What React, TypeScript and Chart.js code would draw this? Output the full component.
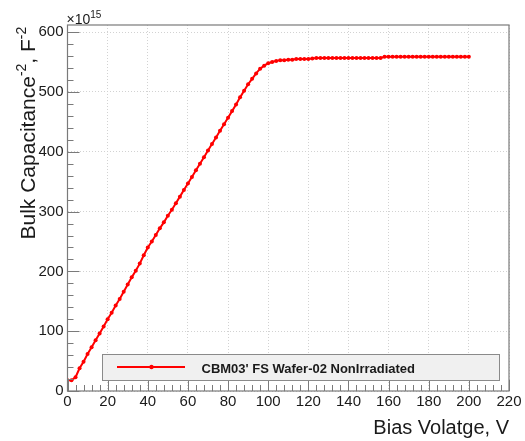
import React, { useEffect, useRef } from "react";
import { Chart, registerables } from "chart.js";

Chart.register(...registerables);

// Bias voltage (V)
const voltages: number[] = [
  0, 2, 4, 6, 8, 10, 12, 14, 16, 18,
  20, 22, 24, 26, 28, 30, 32, 34, 36, 38,
  40, 42, 44, 46, 48, 50, 52, 54, 56, 58,
  60, 62, 64, 66, 68, 70, 72, 74, 76, 78,
  80, 82, 84, 86, 88, 90, 92, 94, 96, 98,
  100, 102, 104, 106, 108, 110, 112, 114, 116, 118,
  120, 122, 124, 126, 128, 130, 132, 134, 136, 138,
  140, 142, 144, 146, 148, 150, 152, 154, 156, 158,
  160, 162, 164, 166, 168, 170, 172, 174, 176, 178,
  180, 182, 184, 186, 188, 190, 192, 194, 196, 198,
  200,
];

// Bulk capacitance^-2 (x1e15 F^-2)
const invCapSquared: number[] = [
  18, 18, 23, 38, 49, 62, 73, 85, 96, 108,
  120, 131, 143, 154, 166, 178, 190, 201, 213, 227,
  240, 250, 261, 272, 282, 293, 303, 314, 325, 336,
  347, 358, 369, 380, 391, 402, 413, 424, 435, 446,
  457, 468, 479, 491, 502, 513, 522, 531, 539, 544,
  548, 550, 552, 553, 553, 554, 554, 555, 555, 555,
  555, 556, 557, 557, 557, 557, 557, 557, 557, 557,
  557, 557, 557, 557, 557, 557, 557, 557, 557, 559,
  559, 559, 559, 559, 559, 559, 559, 559, 559, 559,
  559, 559, 559, 559, 559, 559, 559, 559, 559, 559,
  559,
];

const xMajorTicks: number[] = [0, 20, 40, 60, 80, 100, 120, 140, 160, 180, 200, 220];
const yMajorTicks: number[] = [0, 100, 200, 300, 400, 500, 600];

const seriesName = "CBM03' FS Wafer-02 NonIrradiated";
const xTitle = "Bias Volatge, V";
const yTitleParts: [string, boolean][] = [
  ["Bulk Capacitance", false],
  ["-2", true],
  [", F", false],
  ["-2", true],
];
const exponentBase = "\u00d710";
const exponentPower = "15";

const FONT = "'Liberation Sans', Arial, Helvetica, sans-serif";
const TEXT = "#1a1a1a";
const FRAME = "#7a7a7a";

const decorPlugin = {
  id: "rootDecor",
  afterDraw(chart: any) {
    const ctx: CanvasRenderingContext2D = chart.ctx;
    const { left, right, top, bottom } = chart.chartArea;
    const xs = chart.scales.x;
    const ys = chart.scales.y;
    ctx.save();

    // frame
    ctx.strokeStyle = FRAME;
    ctx.lineWidth = 1.2;
    ctx.strokeRect(left, top, right - left, bottom - top);

    // y ticks (inside)
    ctx.lineWidth = 1;
    ctx.beginPath();
    for (let v = 0; v <= 600; v += 20) {
      const y = Math.round(ys.getPixelForValue(v)) + 0.5;
      const len = v % 100 === 0 ? 12 : 6;
      ctx.moveTo(left, y);
      ctx.lineTo(left + len, y);
    }
    // x ticks (inside)
    for (let v = 0; v <= 220; v += 4) {
      const x = Math.round(xs.getPixelForValue(v)) + 0.5;
      const len = v % 20 === 0 ? 11 : 6;
      ctx.moveTo(x, bottom);
      ctx.lineTo(x, bottom - len);
    }
    ctx.stroke();

    // exponent label
    ctx.fillStyle = TEXT;
    ctx.textAlign = "left";
    ctx.textBaseline = "alphabetic";
    ctx.font = `14px ${FONT}`;
    ctx.fillText(exponentBase, left - 1, 23.5);
    const bw = ctx.measureText(exponentBase).width;
    ctx.font = `10px ${FONT}`;
    ctx.fillText(exponentPower, left - 1 + bw, 18);

    // x title
    ctx.font = `20px ${FONT}`;
    ctx.textAlign = "right";
    ctx.fillText(xTitle, right, 433.5);

    // y title (rotated)
    ctx.save();
    ctx.translate(35, 239.5);
    ctx.rotate(-Math.PI / 2);
    ctx.textAlign = "left";
    let cx = 0;
    for (const [txt, sup] of yTitleParts) {
      ctx.font = sup ? `14px ${FONT}` : `21px ${FONT}`;
      ctx.fillText(txt, cx, sup ? -9 : 0);
      cx += ctx.measureText(txt).width;
    }
    ctx.restore();

    // legend
    const lx = 102, ly = 354, lw = 397, lh = 26;
    ctx.fillStyle = "#f0f0f0";
    ctx.fillRect(lx, ly, lw, lh);
    ctx.strokeStyle = "#8a8a8a";
    ctx.lineWidth = 1;
    ctx.strokeRect(lx + 0.5, ly + 0.5, lw, lh);
    ctx.strokeStyle = "#ff0000";
    ctx.lineWidth = 2;
    ctx.beginPath();
    ctx.moveTo(117, 367);
    ctx.lineTo(185, 367);
    ctx.stroke();
    ctx.fillStyle = "#ff0000";
    ctx.beginPath();
    ctx.arc(151.5, 367, 2.2, 0, Math.PI * 2);
    ctx.fill();
    ctx.fillStyle = TEXT;
    ctx.font = `bold 13px ${FONT}`;
    ctx.textAlign = "left";
    ctx.fillText(seriesName, 201.5, 372.5);

    ctx.restore();
  },
};

export default function App() {
  const canvasRef = useRef<HTMLCanvasElement | null>(null);

  useEffect(() => {
    document.body.style.margin = "0";
    const canvas = canvasRef.current;
    if (!canvas) return;
    const points = voltages.map((v, i) => ({ x: v, y: invCapSquared[i] }));
    const chart = new Chart(canvas, {
      type: "line",
      data: {
        datasets: [
          {
            label: seriesName,
            data: points,
            borderColor: "#ff0000",
            backgroundColor: "#ff0000",
            borderWidth: 2,
            pointRadius: 2,
            pointBorderWidth: 0,
            pointBackgroundColor: "#ff0000",
            tension: 0,
          },
        ],
      },
      options: {
        responsive: false,
        animation: false,
        devicePixelRatio: 1,
        layout: { padding: { left: 0, top: 25, right: 16, bottom: 0 } },
        plugins: {
          legend: { display: false },
          tooltip: { enabled: false },
        },
        scales: {
          x: {
            type: "linear",
            min: 0,
            max: 220,
            afterBuildTicks: (s: any) => {
              s.ticks = xMajorTicks.map((v) => ({ value: v }));
            },
            afterFit: (s: any) => {
              s.height = 50;
            },
            ticks: {
              font: { family: FONT, size: 15 },
              color: TEXT,
              padding: 2,
              maxRotation: 0,
              autoSkip: false,
            },
            grid: {
              color: "#d2d2d2",
              lineWidth: 1,
              drawTicks: false,
            },
            border: { display: false, dash: [1, 2] },
          },
          y: {
            type: "linear",
            min: 0,
            max: 612,
            afterBuildTicks: (s: any) => {
              s.ticks = yMajorTicks.map((v) => ({ value: v }));
            },
            afterFit: (s: any) => {
              s.width = 67.5;
            },
            ticks: {
              font: { family: FONT, size: 15 },
              color: TEXT,
              padding: 4,
              autoSkip: false,
            },
            grid: {
              color: "#d2d2d2",
              lineWidth: 1,
              drawTicks: false,
            },
            border: { display: false, dash: [1, 2] },
          },
        },
      },
      plugins: [decorPlugin],
    });
    return () => chart.destroy();
  }, []);

  return (
    <div style={{ width: 525, height: 441 }}>
      <canvas ref={canvasRef} width={525} height={441} style={{ display: "block" }} />
    </div>
  );
}
